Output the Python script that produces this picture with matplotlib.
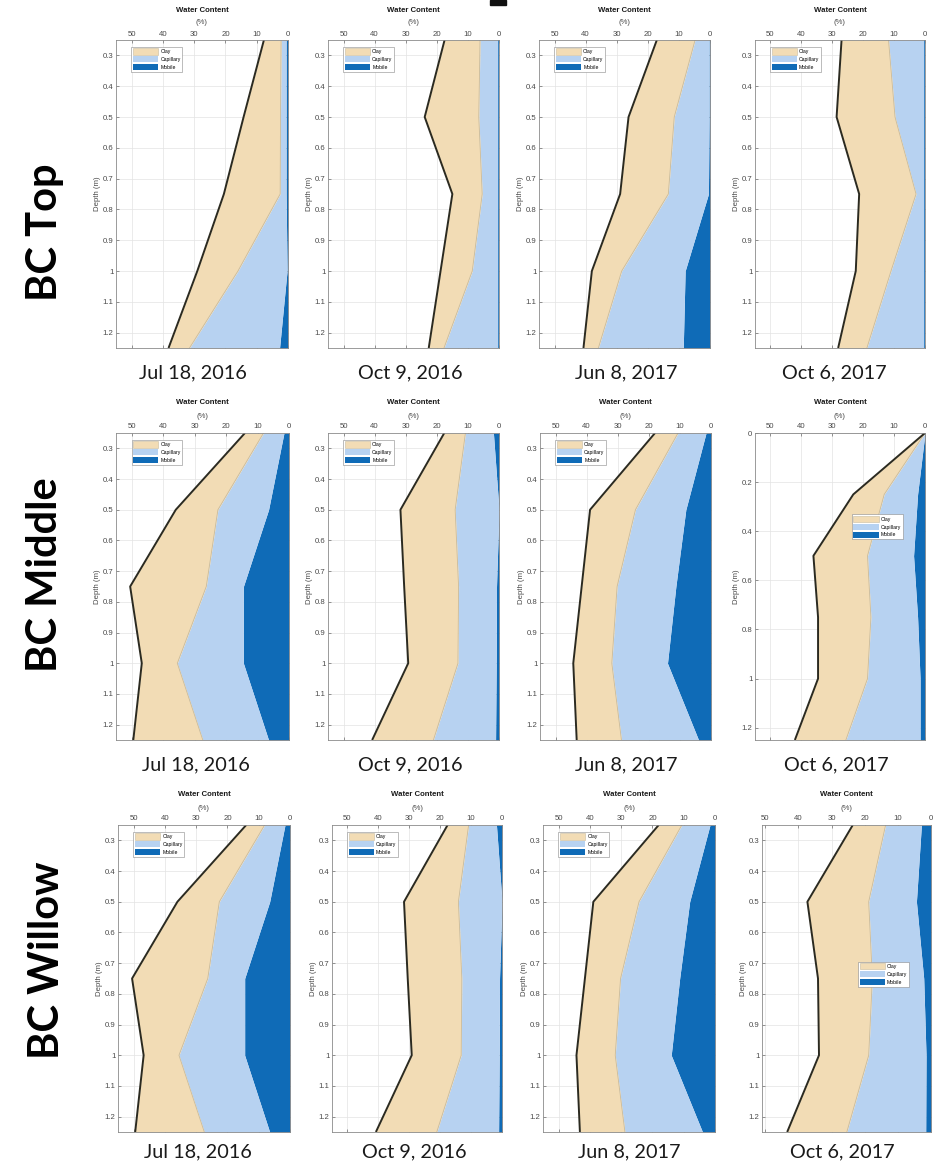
import numpy as np
import matplotlib
matplotlib.use("Agg")
import matplotlib.pyplot as plt
from matplotlib.patches import Patch, Rectangle

# ---------------------------------------------------------------- data
depths = [0.25, 0.50, 0.75, 1.00, 1.25]
depths_from_surface = [0.0, 0.25, 0.50, 0.75, 1.00, 1.25]

dates = ["Jul 18, 2016", "Oct 9, 2016", "Jun 8, 2017", "Oct 6, 2017"]
sites = ["BC Top", "BC Middle", "BC Willow"]
layers = ["Clay", "Capillary", "Mobile"]

# Water content (%) held in each pore class, one row per sampling date
top_mobile = [
    [0.6, 0.6, 0.6, 0.3, 2.7],
    [0.4, 0.4, 0.4, 0.4, 0.4],
    [0.3, 0.3, 0.5, 8.0, 8.6],
    [0.4, 0.4, 0.4, 0.4, 0.4],
]
top_capillary = [
    [1.6, 1.8, 1.9, 15.7, 28.8],
    [5.7, 6.1, 5.0, 8.2, 17.3],
    [4.5, 11.2, 12.9, 20.4, 27.3],
    [11.4, 9.3, 2.5, 10.6, 18.4],
]
top_clay = [
    [5.5, 11.8, 18.0, 13.0, 6.7],
    [11.4, 17.4, 9.6, 10.2, 4.9],
    [12.3, 14.7, 15.5, 9.6, 4.8],
    [15.2, 18.9, 18.4, 11.4, 9.3],
]

middle_mobile = [
    [1.6, 6.5, 14.5, 14.5, 6.5],
    [1.8, 0.0, 0.8, 0.9, 1.1],
    [1.6, 8.1, 11.3, 14.0, 4.0],
    [0.0, 2.4, 3.7, 2.4, 1.6, 1.6],
]
middle_capillary = [
    [6.5, 16.1, 11.8, 21.0, 20.9],
    [9.0, 14.1, 12.2, 12.3, 20.0],
    [9.0, 16.2, 18.9, 17.9, 24.8],
    [0.0, 10.8, 14.9, 15.1, 17.0, 24.0],
]
middle_clay = [
    [5.9, 13.4, 24.2, 11.3, 22.1],
    [6.8, 17.6, 17.5, 16.0, 19.7],
    [7.4, 14.6, 11.4, 12.4, 14.4],
    [0.0, 10.0, 17.5, 17.1, 16.0, 16.5],
]

willow_mobile = [
    [1.6, 6.5, 14.5, 14.5, 6.5],
    [1.8, 0.0, 0.8, 0.9, 1.1],
    [1.6, 8.1, 11.3, 14.0, 4.0],
    [2.9, 4.4, 2.2, 1.5, 1.6],
]
willow_capillary = [
    [6.5, 16.1, 11.8, 21.0, 20.9],
    [9.0, 14.1, 12.2, 12.3, 20.0],
    [9.0, 16.2, 18.9, 17.9, 24.8],
    [10.8, 14.4, 15.5, 17.3, 23.8],
]
willow_clay = [
    [5.9, 13.4, 24.2, 11.3, 22.1],
    [6.8, 17.6, 17.5, 16.0, 19.7],
    [7.4, 14.6, 11.4, 12.4, 14.4],
    [9.9, 18.5, 16.4, 15.0, 18.0],
]

site_data = [
    (top_mobile, top_capillary, top_clay),
    (middle_mobile, middle_capillary, middle_clay),
    (willow_mobile, willow_capillary, willow_clay),
]

# ---------------------------------------------------------------- style
CLAY = "#F2DCB5"
CAPILLARY = "#B7D2F1"
MOBILE = "#0F6BB7"
OUTLINE = "#2B2A20"
INNER_EDGE = "#C8BB9E"
TICK_GREY = "#4A4A4A"

W, H = 942, 1166
fig = plt.figure(figsize=(W / 100, H / 100), dpi=100)
fig.patch.set_facecolor("white")

def fx(px):
    return px / W

def fy(py):
    return 1 - py / H

row_top = [40, 433, 825]
row_bottom = [348, 740, 1132]
col_edges = [
    [(116, 288), (328, 499), (539, 710), (755, 925)],
    [(116, 289), (328, 499), (540, 711), (755, 925)],
    [(118, 290), (332, 502), (543, 715), (762, 931)],
]
date_x = [[193, 410, 626, 834], [196, 410, 626, 836], [198, 414, 629, 842]]
date_y = [373, 765, 1152]
site_label_pos = [(45, 232), (45, 575), (47, 960)]

small_font = ["Liberation Sans", "DejaVu Sans"]
big_font = ["Lato", "DejaVu Sans"]
SMALL = 5.6

legend_handles = [
    Patch(facecolor=CLAY, edgecolor=INNER_EDGE, linewidth=0.4, label=layers[0]),
    Patch(facecolor=CAPILLARY, edgecolor="none", label=layers[1]),
    Patch(facecolor=MOBILE, edgecolor="none", label=layers[2]),
]

for r in range(3):
    mob_rows, cap_rows, clay_rows = site_data[r]
    top, bot = row_top[r], row_bottom[r]
    for c in range(4):
        left, right = col_edges[r][c]
        ax = fig.add_axes([fx(left), fy(bot), fx(right - left), (bot - top) / H])

        mob = np.array(mob_rows[c])
        cap = np.array(cap_rows[c])
        clay = np.array(clay_rows[c])
        d = np.array(depths_from_surface if len(mob) == 6 else depths)

        inner = mob + cap
        total = inner + clay
        ax.fill_betweenx(d, 0, mob, color=MOBILE, lw=0, zorder=2)
        ax.fill_betweenx(d, mob, inner, color=CAPILLARY, lw=0, zorder=2)
        ax.fill_betweenx(d, inner, total, color=CLAY, lw=0, zorder=2)
        ax.plot(inner, d, color=INNER_EDGE, lw=0.6, zorder=3)
        ax.plot(total, d, color=OUTLINE, lw=1.4, zorder=4, solid_capstyle="butt")

        surface_panel = (r == 1 and c == 3)
        narrow_panel = (r == 2 and c == 3)
        ax.set_xlim(51 if narrow_panel else 55, 0)
        if surface_panel:
            ax.set_ylim(1.25, 0)
            yt = np.round(np.arange(0, 1.21, 0.2), 1)
        else:
            ax.set_ylim(1.25, 0.25)
            yt = np.round(np.arange(0.3, 1.21, 0.1), 1)
        ax.set_yticks(yt)
        ax.set_yticklabels([f"{v:g}" for v in yt])
        ax.set_xticks(range(0, 51, 10))
        ax.xaxis.tick_top()
        ax.tick_params(axis="both", direction="in", length=2.0, width=0.4,
                       labelsize=SMALL, colors=TICK_GREY, pad=1.8,
                       top=True, bottom=True, left=True, right=True,
                       labelbottom=False, labelright=False)
        for lab in ax.get_xticklabels() + ax.get_yticklabels():
            lab.set_family(small_font)
        ax.grid(True, color="#E3E3E3", lw=0.5, zorder=0)
        ax.set_axisbelow(True)
        for sp in ax.spines.values():
            sp.set_color("#8A8A8A")
            sp.set_linewidth(0.6)
            sp.set_zorder(5)
        ax.set_ylabel("Depth (m)", fontsize=SMALL, color=TICK_GREY,
                      family=small_font, labelpad=1.5)

        # axis title above the top tick labels
        cx = (left + right) / 2
        fig.text(fx(cx), fy(top - 30), "Water Content", ha="center", va="center",
                 fontsize=SMALL, fontweight="bold", family=small_font, color="#1A1A1A")
        fig.text(fx(cx), fy(top - 17), "(%)", ha="center", va="center",
                 fontsize=SMALL, family=small_font, color=TICK_GREY)

        if surface_panel:
            leg_anchor = (0.57, 0.735)
        elif narrow_panel:
            leg_anchor = (0.57, 0.555)
        else:
            leg_anchor = (0.09, 0.978)
        leg = ax.legend(handles=legend_handles, loc="upper left",
                        bbox_to_anchor=leg_anchor,
                        prop={"family": small_font, "size": 3.7},
                        handlelength=4.9, handleheight=1.5, labelspacing=0.3,
                        handletextpad=0.4, borderpad=0.3, borderaxespad=0,
                        frameon=True, fancybox=False, framealpha=1)
        leg.get_frame().set_edgecolor("#8A8A8A")
        leg.get_frame().set_linewidth(0.4)
        leg.set_zorder(6)

        fig.text(fx(date_x[r][c]), fy(date_y[r]), dates[c], ha="center",
                 va="center", fontsize=14.3, family=big_font, color="#1A1A1A")

    sx, sy = site_label_pos[r]
    fig.text(fx(sx), fy(sy), sites[r], rotation=90, ha="center", va="center",
             fontsize=30, fontweight="bold", family=big_font, color="black")

# small dark bar along the upper edge
fig.patches.append(Rectangle((fx(490), fy(5)), fx(16), 5 / H, color="#111111",
                             transform=fig.transFigure, figure=fig))

fig.savefig("out.png", dpi=100, facecolor="white")
